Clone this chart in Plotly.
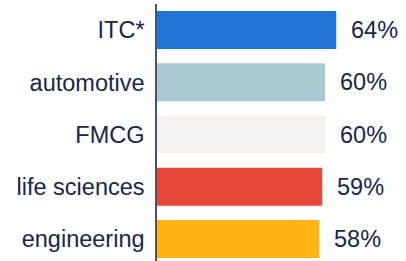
import plotly.graph_objects as go

categories = ["ITC*", "automotive", "FMCG", "life sciences", "engineering"]
values = [64, 60, 60, 59, 58]
labels = ["64%", "60%", "60%", "59%", "58%"]
colors = ["#2174d5", "#a8c9d1", "#f3f2ee", "#e8483a", "#fdb515"]

text_color = "#1b2549"
font_family = "Liberation Sans, Arial, sans-serif"

fig = go.Figure()
fig.add_trace(go.Bar(
    x=values,
    y=categories,
    orientation="h",
    marker=dict(color=colors, line=dict(width=0)),
    width=0.727,
    hoverinfo="skip",
))

for c, v, t in zip(categories, values, labels):
    fig.add_annotation(
        x=v, y=c, text=t, showarrow=False,
        xanchor="left", yanchor="middle", xshift=13,
        font=dict(family=font_family, size=23.5, color=text_color),
    )

fig.update_layout(
    width=406, height=261,
    margin=dict(l=157, r=0, t=4, b=0, autoexpand=False),
    paper_bgcolor="white", plot_bgcolor="white",
    showlegend=False,
    font=dict(family=font_family, size=23.5, color=text_color),
    xaxis=dict(range=[0, 88.9], visible=False, fixedrange=True, automargin=False),
    yaxis=dict(
        categoryorder="array",
        categoryarray=categories[::-1],
        range=[-0.421, 4.498],
        showline=True, linecolor="#4b5370", linewidth=1.5,
        showgrid=False, zeroline=False,
        ticks="", ticklabelstandoff=6,
        tickfont=dict(family=font_family, size=23.5, color=text_color),
        fixedrange=True, automargin=False,
    ),
)

fig.write_html(
    "out.html",
    config={"displayModeBar": False},
    post_script="document.body.style.margin='0';document.body.style.padding='0';",
)
